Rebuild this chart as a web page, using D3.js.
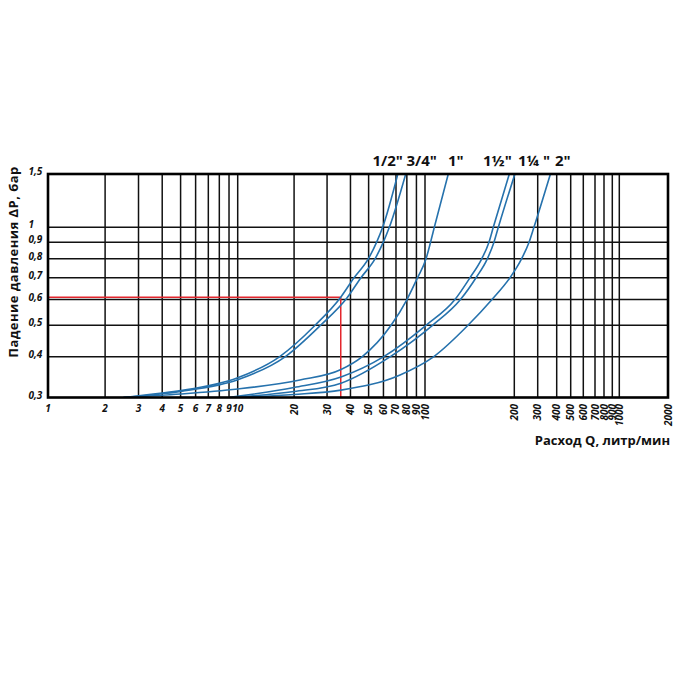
<!DOCTYPE html>
<html>
<head>
<meta charset="utf-8">
<script src="https://cdn.jsdelivr.net/npm/d3@7/dist/d3.min.js"></script>
<style>
  body { margin: 0; background: #fff; }
  text { font-family: "Open Sans", "DejaVu Sans", sans-serif; }
</style>
</head>
<body>
<svg id="chart" width="700" height="700"></svg>
<script>
// ---- data ----
const xLabelsFlat = [1, 2, 3, 4, 5, 6, 7, 8, 9, 10];
const xLabelsRot = [20, 30, 40, 50, 60, 70, 80, 90, 100, 200, 300, 400, 500, 600, 700, 800, 900, 1000, 2000];
const xGrid = [2, 3, 4, 5, 6, 7, 8, 9, 10, 20, 30, 40, 50, 60, 70, 80, 90, 100, 200, 300, 400, 500, 600, 700, 800, 900, 1000];
const yGrid = [0.4, 0.5, 0.6, 0.7, 0.8, 0.9, 1];
const yTicks = [0.3, 0.4, 0.5, 0.6, 0.7, 0.8, 0.9, 1, 1.5];
const yTickLabels = ["0,3", "0,4", "0,5", "0,6", "0,7", "0,8", "0,9", "1", "1,5"];
const sizeLabels = ['1/2"', '3/4"', '1"', '1\u00BD"', '1\u00BC "', '2"'];

// [Q litres/min, ΔP bar]
const curveHalf = [[2.5,0.3],[3.9,0.309],[5,0.315],[10,0.345],[16.7,0.4],[25.9,0.5],[35.5,0.61],[41.8,0.7],[49.8,0.8],[55.2,0.9],[59.4,1.0],[71.6,1.5]];
const curveThreeQuarter = [[2.5,0.3],[5,0.313],[10,0.34],[17.9,0.4],[27.7,0.5],[38.2,0.605],[45.5,0.7],[54.1,0.8],[59.9,0.9],[64.5,1.0],[78.9,1.5]];
const curveOne = [[2.5,0.3],[5,0.3075],[10,0.3186],[21.5,0.3396],[35.6,0.3657],[46.1,0.4],[65.9,0.5],[80.1,0.6],[91.2,0.7],[100.8,0.8],[104.4,0.9],[107.5,1.0],[119.8,1.5]];
const curveOneHalf = [[8.9,0.3],[20,0.322],[35.6,0.347],[59.9,0.4],[100.8,0.5],[126.2,0.6],[141.8,0.7],[155.3,0.8],[164.3,0.9],[169.9,1.0],[192.4,1.5]];
const curveOneQuarter = [[9.3,0.3],[20,0.313],[35.6,0.332],[65,0.4],[106,0.5],[131.7,0.6],[148.6,0.7],[162.2,0.8],[170.8,0.9],[176.7,1.0],[202,1.5]];
const curveTwo = [[9.8,0.3],[20,0.3064],[35.6,0.316],[73.6,0.352],[106.8,0.4],[139.6,0.5],[168.2,0.6],[193.4,0.7],[226.8,0.8],[258.3,0.9],[281,1.0],[363.6,1.5]];
const curves = [curveHalf, curveThreeQuarter, curveOne, curveOneHalf, curveOneQuarter, curveTwo];
const examplePoint = [35.5, 0.61];

// ---- layout ----
const svg = d3.select("#chart");
const pL = 48, pR = 668, pT = 174, pB = 397.5;
const x = d3.scaleLog()
  .domain([1, 10, 100, 200, 300, 400, 500, 600, 700, 800, 900, 1000, 2000])
  .range([pL, 237.7, 425, 514.3, 537.7, 556.7, 570.7, 583.3, 595, 604, 612.3, 619.3, pR]);
const y = d3.scaleLog().domain([0.3, 1, 1.5]).range([pB, 227.3, pT]);
const labelStartX = [372.5, 406.5, 448, 483, 518, 555];

svg.append("defs").append("clipPath").attr("id", "plot")
  .append("rect").attr("x", pL).attr("y", pT).attr("width", pR - pL).attr("height", pB - pT);

// grid
svg.append("g").selectAll("line").data(xGrid).join("line")
  .attr("x1", d => x(d)).attr("x2", d => x(d)).attr("y1", pT).attr("y2", pB)
  .attr("stroke", "#111").attr("stroke-width", 1.5);
svg.append("g").selectAll("line").data(yGrid).join("line")
  .attr("x1", pL).attr("x2", pR).attr("y1", d => y(d)).attr("y2", d => y(d))
  .attr("stroke", "#111").attr("stroke-width", 1.5);

// red example lines
const red = svg.append("g").attr("stroke", "#e3262d").attr("stroke-width", 1.5).attr("fill", "none");
red.append("line").attr("x1", x(1)).attr("x2", x(examplePoint[0])).attr("y1", y(examplePoint[1])).attr("y2", y(examplePoint[1]));
red.append("line").attr("x1", x(examplePoint[0])).attr("x2", x(examplePoint[0])).attr("y1", y(examplePoint[1])).attr("y2", y(0.3));

// curves
const line = d3.line().x(d => x(d[0])).y(d => y(d[1])).curve(d3.curveMonotoneX);
svg.append("g").attr("clip-path", "url(#plot)").selectAll("path").data(curves).join("path")
  .attr("d", line).attr("fill", "none").attr("stroke", "#2672ad").attr("stroke-width", 1.6);

// border
svg.append("rect").attr("x", pL).attr("y", pT).attr("width", pR - pL).attr("height", pB - pT)
  .attr("fill", "none").attr("stroke", "#000").attr("stroke-width", 2.6);

// y tick labels
svg.append("g").selectAll("text").data(yTicks).join("text")
  .attr("x", 28.5).attr("y", d => y(d) + 1)
  .attr("font-size", 10).attr("font-weight", "bold").attr("font-style", "italic").attr("fill", "#111")
  .text((d, i) => yTickLabels[i]);

// x tick labels (flat)
svg.append("g").selectAll("text").data(xLabelsFlat).join("text")
  .attr("x", d => x(d)).attr("y", 411.5).attr("text-anchor", "middle")
  .attr("font-size", 10).attr("font-weight", "bold").attr("font-style", "italic").attr("fill", "#111")
  .text(d => d);
// x tick labels (rotated)
svg.append("g").selectAll("text").data(xLabelsRot).join("text")
  .attr("transform", d => `translate(${x(d)},404) rotate(-90)`)
  .attr("dy", "0.35em").attr("text-anchor", "end")
  .attr("font-size", 10).attr("font-weight", "bold").attr("font-style", "italic").attr("fill", "#111")
  .text(d => d);

// size labels
svg.append("g").selectAll("text").data(sizeLabels).join("text")
  .attr("x", (d, i) => labelStartX[i]).attr("y", 166)
  .attr("font-size", 15).attr("font-weight", "bold").attr("fill", "#111")
  .text(d => d);

// axis titles
svg.append("text").attr("x", 670).attr("y", 444.5).attr("text-anchor", "end")
  .attr("font-size", 13).attr("font-weight", "bold").attr("fill", "#111")
  .text("Расход Q, литр/мин");
svg.append("text").attr("transform", "translate(18,262) rotate(-90)").attr("text-anchor", "middle")
  .attr("font-size", 13).attr("letter-spacing", 0.45).attr("font-weight", "bold").attr("fill", "#111")
  .text("Падение давления ΔP, бар");
</script>
</body>
</html>
